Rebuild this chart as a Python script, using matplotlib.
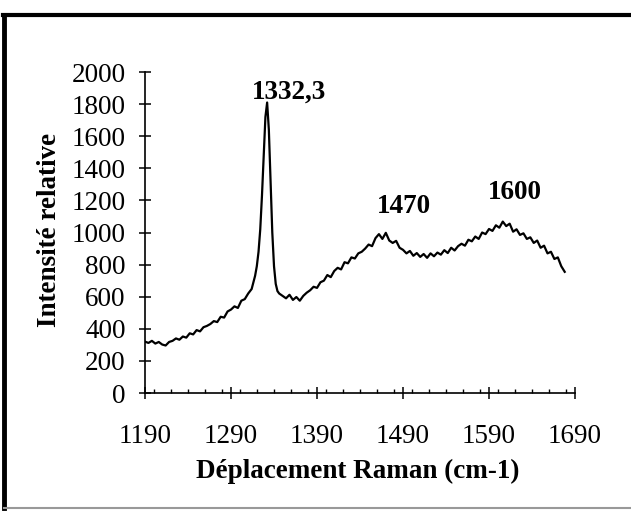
import numpy as np
import matplotlib
matplotlib.use("Agg")
import matplotlib.pyplot as plt
from matplotlib.lines import Line2D
from matplotlib.ticker import MultipleLocator

plt.rcParams['font.family'] = ['Liberation Serif', 'DejaVu Serif']

# Raman shift (cm-1) and relative intensity
shift = [1190, 1194, 1198, 1202, 1206, 1210, 1214, 1218, 1222, 1226,
         1230, 1234, 1238, 1242, 1246, 1250, 1254, 1258, 1262, 1266,
         1270, 1274, 1278, 1282, 1286, 1290, 1294, 1298, 1302, 1306,
         1310, 1314,
         1316, 1318, 1320, 1322, 1324, 1326, 1328, 1330, 1332, 1334,
         1336, 1338, 1340, 1342, 1344, 1346,
         1350, 1354, 1358, 1362, 1366, 1370, 1374, 1378, 1382, 1386,
         1390, 1394, 1398, 1402, 1406, 1410, 1414, 1418, 1422, 1426,
         1430, 1434, 1438, 1442, 1446, 1450, 1454, 1458, 1462, 1466,
         1470, 1474, 1478, 1482, 1486, 1490, 1494, 1498, 1502, 1506,
         1510, 1514, 1518, 1522, 1526, 1530, 1534, 1538, 1542, 1546,
         1550, 1554, 1558, 1562, 1566, 1570, 1574, 1578, 1582, 1586,
         1590, 1594, 1598, 1602, 1606, 1610, 1614, 1618, 1622, 1626,
         1630, 1634, 1638, 1642, 1646, 1650, 1654, 1658, 1662, 1666,
         1670, 1674, 1678]
intensity = [320, 312, 325, 308, 318, 302, 296, 318, 325, 340,
             332, 352, 345, 372, 365, 392, 384, 410, 418, 430,
             448, 442, 475, 470, 508, 520, 540, 530, 575, 585,
             620, 648,
             690, 730, 790, 880, 1020, 1230, 1480, 1720, 1810, 1640,
             1320, 1000, 790, 680, 635, 620,
             605, 590, 612, 580, 598, 575, 605, 625, 640, 662,
             655, 690, 700, 735, 722, 760, 780, 770, 815, 808,
             845, 838, 870, 880, 900, 925, 915, 965, 990, 960,
             998, 950, 935, 948, 905, 892, 870, 885, 855, 872,
             848, 866, 842, 870, 852, 875, 862, 890, 872, 905,
             888, 915, 930, 918, 955, 945, 975, 960, 1000, 990,
             1022, 1010, 1045, 1030, 1068, 1040, 1055, 1005, 1020, 985,
             995, 960, 970, 935, 950, 905, 918, 870, 880, 835,
             845, 790, 755]

peak_labels = ["1332,3", "1470", "1600"]
label_x = [1358, 1491, 1620]
label_y = [1875, 1160, 1252]

fig = plt.figure(figsize=(6.31, 5.14), dpi=100)
ax = fig.add_axes([0.2298, 0.2354, 0.6815, 0.6245])

ax.plot(shift, intensity, color="black", lw=1.6)

for txt, lx, ly in zip(peak_labels, label_x, label_y):
    ax.text(lx, ly, txt, ha="center", va="center", fontsize=19.5,
            fontweight="bold")

ax.set_xlim(1190, 1690)
ax.set_ylim(0, 2000)
ax.set_xticks(np.arange(1190, 1691, 100))
ax.set_yticks(np.arange(0, 2001, 200))
ax.xaxis.set_minor_locator(MultipleLocator(20))

for side in ["top", "right"]:
    ax.spines[side].set_visible(False)
for side in ["left", "bottom"]:
    ax.spines[side].set_linewidth(1.2)

ax.tick_params(axis="y", which="major", direction="inout", length=8,
               width=1.1, labelsize=19.5, pad=10)
ax.tick_params(axis="x", which="major", direction="inout", length=9,
               width=1.1, labelsize=19.5, pad=18)
ax.tick_params(axis="x", which="minor", direction="in", length=3, width=1)

fig.text(0.567, 0.082, "Déplacement Raman (cm-1)", ha="center",
         va="center", fontsize=19.5, fontweight="bold")
fig.text(0.079, 0.553, "Intensité relative", ha="center", va="center",
         rotation=90, fontsize=19.5, fontweight="bold")

# frame around the figure
fig.add_artist(Line2D([0.005, 1.0], [0.971, 0.971], color="black", lw=3))
fig.add_artist(Line2D([0.007, 0.007], [0.012, 0.971], color="black", lw=3.5))
fig.add_artist(Line2D([0.007, 1.0], [0.012, 0.012], color="#999999", lw=1.5))

fig.savefig("out.png", dpi=100)
